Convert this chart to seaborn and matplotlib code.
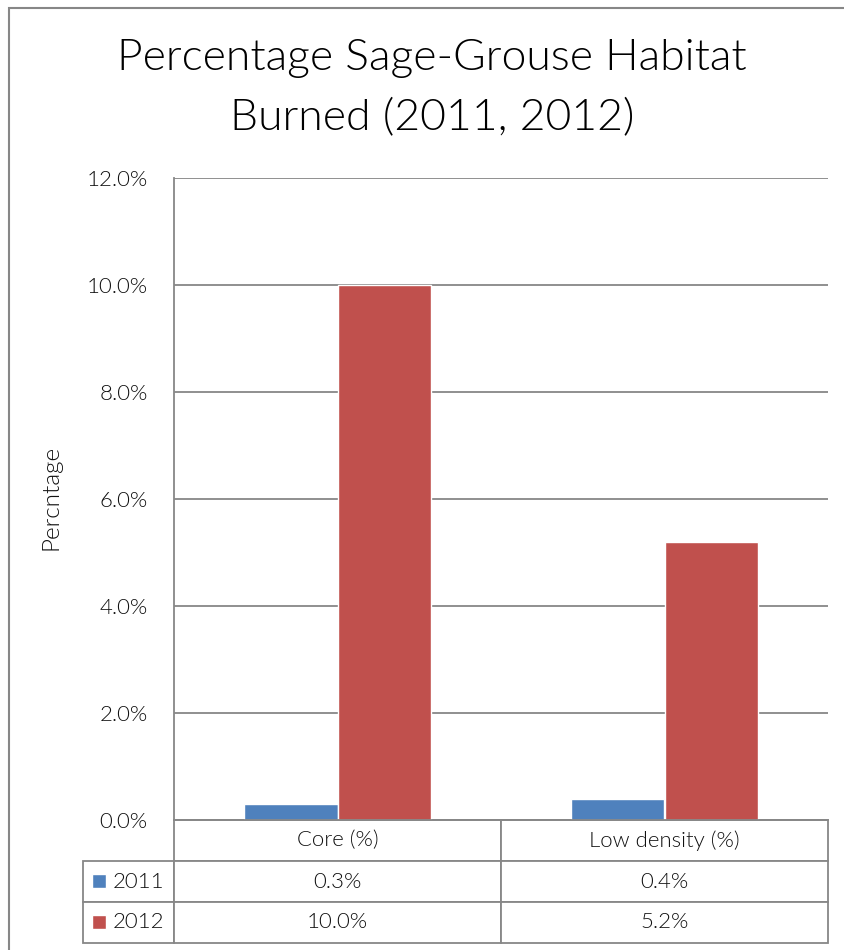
import numpy as np
import pandas as pd
import matplotlib.pyplot as plt
import matplotlib.patches as mpatches
import seaborn as sns

# data
categories = ['Core (%)', 'Low density (%)']
years = ['2011', '2012']
values_2011 = [0.3, 0.4]
values_2012 = [10.0, 5.2]
colors = ['#4F81BD', '#C0504D']
grid_col = '#878787'
txt_col = '#111111'

df = pd.DataFrame({
    'Category': categories * 2,
    'Year': [years[0]] * 2 + [years[1]] * 2,
    'Value': values_2011 + values_2012,
})

sns.set_theme(style='white')
plt.rcParams['font.family'] = ['Lato', 'DejaVu Sans']
plt.rcParams['font.weight'] = 300
plt.rcParams['text.color'] = txt_col

fig = plt.figure(figsize=(8.45, 9.5), dpi=100)
ax = fig.add_axes([174 / 845, 1 - 820 / 950, 654 / 845, 642 / 950])

sns.barplot(data=df, x='Category', y='Value', hue='Year', palette=colors,
            width=0.57, saturation=1, legend=False, ax=ax)

ax.set_ylim(0, 12)
ticks = np.arange(0, 12.1, 2)
ax.set_yticks(ticks)
ax.set_yticklabels([f'{v:.1f}%' for v in ticks], fontsize=16,
                   color=txt_col, fontweight=300)
ax.yaxis.grid(True, color=grid_col, linewidth=1.3)
ax.set_axisbelow(True)
ax.tick_params(axis='y', length=0, pad=19)
ax.set_xticks([])
ax.set_xlabel('')
ax.set_ylabel('Percntage', fontsize=17.5, color=txt_col, fontweight=300)
ax.yaxis.set_label_coords((61 - 174) / 654, (820 - 497) / 642)
for s in ['top', 'right']:
    ax.spines[s].set_visible(False)
for s in ['left', 'bottom']:
    ax.spines[s].set_color(grid_col)
    ax.spines[s].set_linewidth(1.3)

# data table under the axis
cell_text = [[''] + categories,
             [years[0]] + [f'{v:.1f}%' for v in values_2011],
             [years[1]] + [f'{v:.1f}%' for v in values_2012]]
tab_left = (83 - 174) / 654
tab_h = (943 - 820) / 642
tbl = ax.table(cellText=cell_text, colWidths=[91, 327, 327],
               cellLoc='center', bbox=[tab_left, -tab_h, 1 - tab_left, tab_h])
tbl.auto_set_font_size(False)
tbl.set_fontsize(16)
for (r, c), cell in tbl.get_celld().items():
    cell.set_edgecolor(grid_col)
    cell.set_linewidth(1.3)
    cell.get_text().set_color(txt_col)
    cell.get_text().set_fontweight(300)
    if r == 0 and c == 0:
        cell.visible_edges = ''
    if c == 0 and r > 0:
        cell.get_text().set_ha('left')
        cell.PAD = 0.33

# legend keys in the table row labels
for i, col in enumerate(colors):
    y0 = 874 + i * 41
    ax.add_patch(mpatches.Rectangle(((92 - 174) / 654, (820 - y0 - 14) / 642),
                                    14 / 654, 14 / 642, transform=ax.transAxes,
                                    facecolor=col, clip_on=False))

fig.text(432 / 845, 1 - 58 / 950, 'Percentage Sage-Grouse Habitat',
         ha='center', va='center', fontsize=32, color='black', fontweight=300)
fig.text(432 / 845, 1 - 118 / 950, 'Burned (2011, 2012)',
         ha='center', va='center', fontsize=32, color='black', fontweight=300)

# outer chart frame
fig.patches.append(mpatches.Rectangle((9 / 845, -0.05), 1.0, 1 - 8 / 950 + 0.05,
                                      transform=fig.transFigure, fill=False,
                                      edgecolor=grid_col, linewidth=1.5))

fig.savefig('out.png', dpi=100)
